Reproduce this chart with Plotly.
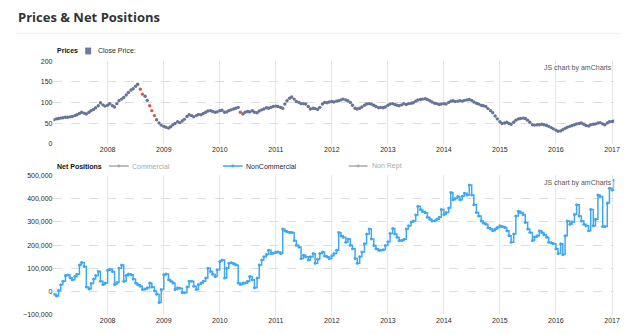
import pandas as pd
import plotly.graph_objects as go

# ---------------- data (semi-monthly readings) ----------------
dates = pd.date_range("2007-01-15", periods=241, freq="SMS")

close_price = [
    58, 60, 61, 62, 63, 64, 64, 65, 66, 68, 70, 73, 76, 74, 72, 76, 80, 83, 87, 92, 99, 94, 91, 93,
    97, 92, 89, 97, 104, 108, 112, 118, 124, 130, 133, 139, 144, 132, 120, 115, 105, 92, 80, 68, 58, 50, 45, 42,
    40, 38, 41, 46, 49, 53, 51, 55, 59, 66, 70, 68, 65, 68, 71, 70, 73, 76, 79, 80, 78, 76, 77, 80,
    81, 76, 77, 80, 82, 84, 86, 88, 76, 72, 76, 78, 77, 80, 76, 75, 79, 82, 84, 87, 86, 88, 90, 91,
    90, 88, 86, 96, 104, 110, 113, 108, 102, 100, 97, 97, 96, 90, 84, 86, 85, 83, 88, 96, 100, 99, 101, 102,
    101, 103, 104, 106, 108, 106, 104, 100, 93, 86, 84, 86, 89, 93, 96, 97, 96, 93, 90, 87, 88, 87, 89, 93,
    96, 97, 95, 93, 92, 94, 97, 95, 97, 98, 99, 103, 106, 107, 108, 109, 107, 104, 101, 98, 97, 95, 96, 97,
    96, 100, 103, 104, 102, 103, 104, 103, 105, 106, 107, 105, 101, 98, 96, 93, 92, 90, 85, 80, 75, 67, 60, 53,
    49, 50, 52, 49, 47, 52, 57, 60, 61, 62, 61, 57, 52, 46, 45, 46, 46, 47, 46, 44, 42, 39, 36, 33,
    30, 31, 34, 37, 40, 42, 44, 46, 48, 49, 50, 47, 44, 43, 46, 47, 48, 50, 51, 48, 46, 50, 53, 54,
    55,
]

non_commercial = [
    -11000, -18000, 5000, 30000, 45000, 70000, 72000, 60000, 52000, 65000, 75000, 115000,
    126000, 108000, 20000, 12000, 35000, 55000, 70000, 87000, 45000, 31000, 38000, 92000,
    97000, 87000, 31000, 40000, 101000, 115000, 45000, 70000, 76000, 73000, 55000, 38000,
    30000, 24000, 10000, 12000, 17000, 38000, 20000, 3000, -11000, -46000, 10000, 73000,
    76000, 52000, 45000, 38000, 10000, 17000, 15000, -4000, -4000, 20000, 45000, 45000,
    24000, 10000, 31000, 38000, 45000, 59000, 101000, 87000, 75000, 66000, 94000, 130000,
    136000, 59000, 101000, 122000, 125000, 120000, 115000, 38000, 31000, 38000, 38000, 45000,
    66000, 52000, 17000, 59000, 115000, 136000, 150000, 160000, 178000, 164000, 165000, 171000,
    171000, 164000, 269000, 262000, 258000, 255000, 255000, 220000, 200000, 192000, 143000, 157000,
    150000, 136000, 150000, 164000, 122000, 140000, 164000, 171000, 154000, 150000, 143000, 155000,
    164000, 178000, 255000, 240000, 234000, 213000, 227000, 200000, 185000, 143000, 122000, 150000,
    171000, 206000, 248000, 269000, 227000, 199000, 185000, 178000, 178000, 180000, 199000, 215000,
    250000, 272000, 248000, 234000, 220000, 220000, 225000, 269000, 283000, 300000, 304000, 330000,
    367000, 353000, 345000, 339000, 320000, 311000, 304000, 305000, 311000, 320000, 353000, 332000,
    340000, 360000, 426000, 395000, 400000, 409000, 395000, 410000, 423000, 416000, 458000, 416000,
    374000, 340000, 325000, 304000, 295000, 290000, 275000, 269000, 262000, 270000, 276000, 283000,
    280000, 276000, 262000, 240000, 213000, 248000, 325000, 346000, 340000, 332000, 297000, 270000,
    255000, 220000, 235000, 241000, 262000, 255000, 245000, 234000, 213000, 210000, 206000, 185000,
    164000, 206000, 160000, 241000, 304000, 290000, 300000, 332000, 374000, 325000, 304000, 290000,
    283000, 262000, 353000, 283000, 311000, 416000, 409000, 280000, 280000, 381000, 444000, 437000,
    479000,
]

price_ticks = [0, 50, 100, 150, 200]
net_ticks = [-100000, 0, 100000, 200000, 300000, 400000, 500000]

# ---------------- styling ----------------
W, H = 640, 334
def px(x): return x / W
def py(y): return 1 - y / H

PRICE_COL = "#67749a"
DROP_COL = "#e2574c"
NET_COL = "#3ea8f2"
GREY = "#aaaaaa"
TXT = "#2a2a2a"
FONT = "Liberation Sans, Arial, sans-serif"

price_colors = [PRICE_COL] + [
    DROP_COL if (close_price[i - 1] - close_price[i]) >= 12 else PRICE_COL
    for i in range(1, len(close_price))
]

fig = go.Figure()
fig.add_trace(go.Scatter(
    x=dates, y=close_price, mode="markers",
    marker=dict(size=3.4, color=price_colors, line=dict(width=0)),
    xaxis="x", yaxis="y", showlegend=False,
))
fig.add_trace(go.Scatter(
    x=dates, y=non_commercial, mode="lines+markers", line_shape="hv",
    line=dict(color=NET_COL, width=1.5),
    marker=dict(size=3, color=NET_COL),
    xaxis="x2", yaxis="y2", showlegend=False,
))

xrange = ["2007-01-13", "2017-01-15"]
xcommon = dict(
    range=xrange, type="date", dtick="M12", tick0="2008-01-01", tickformat="%Y",
    showgrid=True, gridcolor="#e6e6e6", gridwidth=1, zeroline=False, showline=False,
    ticks="", tickfont=dict(family=FONT, size=7, color=TXT),
    domain=[px(54), px(620)], fixedrange=True,
)
ycommon = dict(
    showgrid=True, gridcolor="#dedede", griddash="dash", gridwidth=1, zeroline=False,
    showline=False, ticks="", tickfont=dict(family=FONT, size=7, color=TXT), fixedrange=True,
)

fig.update_layout(
    width=W, height=H, margin=dict(l=0, r=0, t=0, b=0),
    paper_bgcolor="white", plot_bgcolor="white",
    xaxis=dict(xcommon, anchor="y"),
    yaxis=dict(ycommon, range=[0, 200], tickvals=price_ticks,
               domain=[py(142.7), py(58.3)], anchor="x"),
    xaxis2=dict(xcommon, anchor="y2"),
    yaxis2=dict(ycommon, range=[-100000, 500000], tickvals=net_ticks, tickformat=",",
                domain=[py(317.7), py(175)], anchor="x2"),
)

ann = []
def text(x, y, s, size=7, color=TXT, bold=False, xanchor="left", family=FONT):
    ann.append(dict(
        x=px(x), y=py(y), xref="paper", yref="paper", text=f"<b>{s}</b>" if bold else s,
        showarrow=False, xanchor=xanchor, yanchor="middle",
        font=dict(family=family, size=size, color=color),
    ))

text(16, 13, "Prices & Net Positions", size=13, bold=True, color="#333333",
     family="Open Sans, Liberation Sans, sans-serif")
text(56, 48, "Prices", bold=True, color="#111111")
text(97, 48, "Close Price:")
text(56, 165.5, "Net Positions", bold=True, color="#111111")
text(131, 165.5, "Commercial", color=GREY)
text(246, 165.5, "NonCommercial")
text(373, 165.5, "Non Rept", color=GREY)
text(620, 65.5, "JS chart by amCharts", color="#555555", xanchor="right")
text(620, 182.5, "JS chart by amCharts", color="#555555", xanchor="right")

shapes = [
    dict(type="line", xref="paper", yref="paper", x0=px(16), x1=px(626), y0=py(30), y1=py(30),
         line=dict(color="#eeeeee", width=1)),
    dict(type="rect", xref="paper", yref="paper", x0=px(86), x1=px(92), y0=py(51.5), y1=py(44.5),
         fillcolor="#6b7aa3", line=dict(width=0)),
]
for (x0, x1, col) in [(110, 130, GREY), (225, 245, NET_COL), (352, 371, GREY)]:
    shapes.append(dict(type="line", xref="paper", yref="paper", x0=px(x0), x1=px(x1),
                       y0=py(165.5), y1=py(165.5), line=dict(color=col, width=1.5)))
    cx = (x0 + x1) / 2
    shapes.append(dict(type="circle", xref="paper", yref="paper", x0=px(cx - 1.5), x1=px(cx + 1.5),
                       y0=py(167), y1=py(164), fillcolor=col, line=dict(width=0)))

fig.update_layout(annotations=ann, shapes=shapes)
fig.write_html("out.html")
